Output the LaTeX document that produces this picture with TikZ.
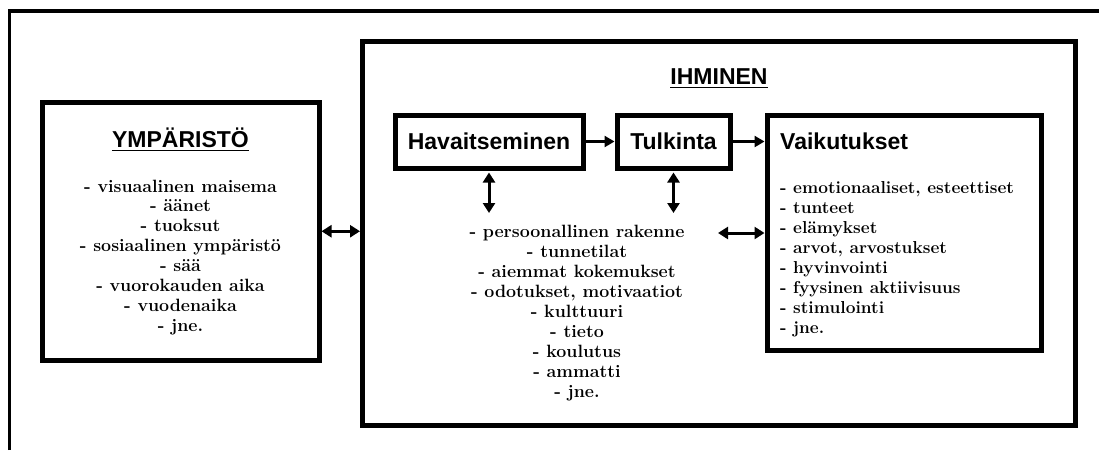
\documentclass[tikz,border=0pt]{standalone}
\usepackage{fontspec}
\newfontfamily\headfont{Liberation Sans}
\usetikzlibrary{arrows.meta}
\begin{document}
\begin{tikzpicture}[x=1pt,y=-1pt,
  frame/.style={draw, line width=5pt, inner sep=0pt},
  heading/.style={font=\headfont\bfseries\fontsize{23}{26}\selectfont},
  item/.style={font=\bfseries\fontsize{17.8}{20}\selectfont, inner sep=0pt, anchor=base},
  link/.style={line width=3pt, -{Triangle[length=10pt,width=11pt]}},
  duplex/.style={line width=3pt, {Triangle[length=10pt,width=12pt]}-{Triangle[length=10pt,width=12pt]}},
  rule/.style={line width=1.8pt}]
\useasboundingbox (0,0) rectangle (1099,450);
\fill[white] (0,0) rectangle (1099,450);

% open outer frame
\draw[line width=3.5pt] (9.5,450) -- (9.5,11) -- (1099,11);

% environment box
\node[frame, minimum width=276.5pt, minimum height=257.5pt] (ymp) at (180.75,231.25) {};
\node[heading, inner sep=0pt, anchor=base] (ymp-title) at (180.5,147) {YMPÄRISTÖ};
\draw[rule] ([yshift=-3.5pt]ymp-title.base west) -- ([yshift=-3.5pt]ymp-title.base east);
\foreach \t [count=\i] in {- visuaalinen maisema, - äänet, - tuoksut,
    - sosiaalinen ympäristö, - sää, - vuorokauden aika, - vuodenaika, - jne.}
  \node[item] (ymp-\i) at (180.5,{192+19.9*(\i-1)}) {\t};

% person box
\node[frame, minimum width=713pt, minimum height=384pt] (ihm) at (719,233.5) {};
\node[heading, inner sep=0pt, anchor=base] (ihm-title) at (719,84) {IHMINEN};
\draw[rule] ([yshift=-3.5pt]ihm-title.base west) -- ([yshift=-3.5pt]ihm-title.base east);

% process boxes
\node[frame, heading, minimum width=188pt, minimum height=53pt] (hav) at (489,141.5) {Havaitseminen};
\node[frame, heading, minimum width=113pt, minimum height=53pt] (tul) at (673.5,141.5) {Tulkinta};
\node[frame, minimum width=274pt, minimum height=234.5pt] (vai) at (904,232.75) {};
\node[heading, inner sep=0pt, anchor=base west] (vai-title) at (780,149) {Vaikutukset};

% personal factors
\foreach \t [count=\i] in {- persoonallinen rakenne, - tunnetilat, - aiemmat kokemukset,
    {- odotukset, motivaatiot}, - kulttuuri, - tieto, - koulutus, - ammatti, - jne.}
  \node[item] (pers-\i) at (577,{237+20*(\i-1)}) {\t};

% effects
\foreach \t [count=\i] in {{- emotionaaliset, esteettiset}, - tunteet, - elämykset,
    {- arvot, arvostukset}, - hyvinvointi, - fyysinen aktiivisuus, - stimulointi, - jne.}
  \node[item, font=\bfseries\fontsize{17.3}{20}\selectfont, anchor=base west] (vai-\i) at (780,{193+20*(\i-1)}) {\t};

% connectors
\coordinate (hav-low) at (489,213);
\coordinate (tul-low) at (673.5,213);
\coordinate (pers-right) at (718,233);
\draw[link] (hav.east) -- (tul.west);
\draw[link] (tul.east) -- (tul.east -| vai.west);
\draw[duplex, shorten <=2pt] (hav.south) -- (hav-low);
\draw[duplex, shorten <=2pt] (tul.south) -- (tul-low);
\draw[duplex] (pers-right) -- (pers-right -| vai.west);
\draw[duplex] (ymp.east) -- (ymp.east -| ihm.west);
\end{tikzpicture}
\end{document}
